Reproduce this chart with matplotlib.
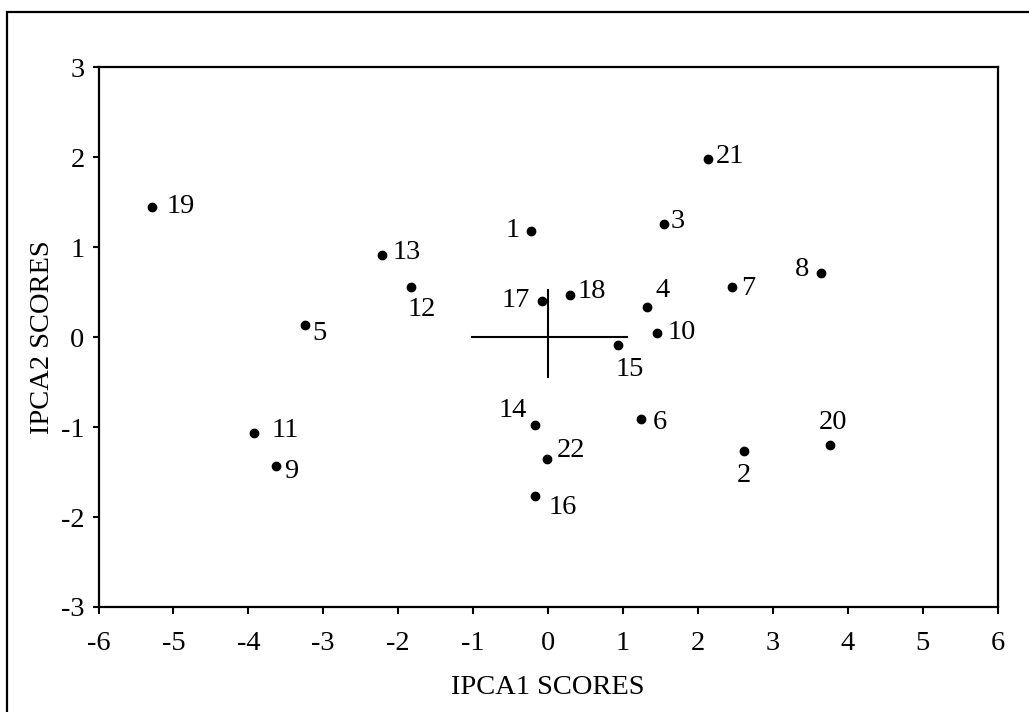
import matplotlib
matplotlib.use("Agg")
import matplotlib.pyplot as plt
from matplotlib.patches import Rectangle

# genotype scores
labels = ["1", "2", "3", "4", "5", "6", "7", "8", "9", "10", "11",
          "12", "13", "14", "15", "16", "17", "18", "19", "20", "21", "22"]
ipca1 = [-0.23, 2.62, 1.55, 1.32, -3.25, 1.24, 2.46, 3.64, -3.63, 1.46, -3.93,
         -1.83, -2.21, -0.18, 0.94, -0.18, -0.08, 0.30, -5.28, 3.77, 2.14, -0.02]
ipca2 = [1.18, -1.27, 1.26, 0.33, 0.14, -0.91, 0.56, 0.715, -1.43, 0.05, -1.07,
         0.56, 0.91, -0.98, -0.09, -1.77, 0.40, 0.47, 1.45, -1.20, 1.98, -1.35]

# centre cross
cross_x = [-1.02, 1.05]
cross_y = [-0.44, 0.52]

xticks = [-6, -5, -4, -3, -2, -1, 0, 1, 2, 3, 4, 5, 6]
yticks = [-3, -2, -1, 0, 1, 2, 3]

# label offsets in pixels (dx, dy up), with horizontal alignment
offsets = {
    "1": (-11, 1, "right"), "2": (0, -24, "center"), "3": (7, 2, "left"),
    "4": (9, 17, "left"), "5": (8, -9, "left"), "6": (12, -3, "left"),
    "7": (9, -2, "left"), "8": (-11, 3, "right"), "9": (8, -6, "left"),
    "10": (10, 0, "left"), "11": (18, 3, "left"), "12": (11, -23, "center"),
    "13": (10, 3, "left"), "14": (-8, 15, "right"), "15": (11, -24, "center"),
    "16": (14, -11, "left"), "17": (-12, 1, "right"), "18": (7, 3, "left"),
    "19": (14, 0, "left"), "20": (3, 23, "center"), "21": (7, 3, "left"),
    "22": (10, 8, "left"),
}

plt.rcParams['font.family'] = ['Liberation Serif', 'DejaVu Serif']
fs = 20.5

fig = plt.figure(figsize=(10.29, 7.12), dpi=100)
# outer frame: only the left and top edges fall inside the picture
fig.patches.append(Rectangle((7 / 1029, -0.1), 1.2, (712 - 12) / 712 + 0.1,
                             transform=fig.transFigure, fill=False,
                             edgecolor='black', linewidth=1.6))

ax = fig.add_axes([98.5 / 1029, 1 - 607 / 712, 899 / 1029, (607 - 67.3) / 712])

ax.plot(cross_x, [0, 0], color='black', linewidth=1.5)
ax.plot([0, 0], cross_y, color='black', linewidth=1.5)
ax.plot(ipca1, ipca2, 'o', color='black', markersize=6, linestyle='none')

for lab, x, y in zip(labels, ipca1, ipca2):
    dx, dy, ha = offsets[lab]
    ax.annotate(lab, (x, y), xytext=(dx * 0.72, dy * 0.72),
                textcoords='offset points', ha=ha, va='center', fontsize=fs)

ax.set_xlim(-6, 6)
ax.set_ylim(-3, 3)
ax.set_xticks(xticks)
ax.set_yticks(yticks)
ax.set_xticklabels([str(t) for t in xticks])
ax.set_yticklabels([str(t) for t in yticks])
ax.tick_params(direction='out', length=4, width=1.5, labelsize=fs, pad=6)
ax.tick_params(axis='x', length=5, pad=12)
for s in ax.spines.values():
    s.set_linewidth(1.6)

ax.set_xlabel('IPCA1 SCORES', fontsize=fs, labelpad=14)
ax.set_ylabel('IPCA2 SCORES', fontsize=fs, labelpad=4)

fig.savefig('out.png', dpi=100)
